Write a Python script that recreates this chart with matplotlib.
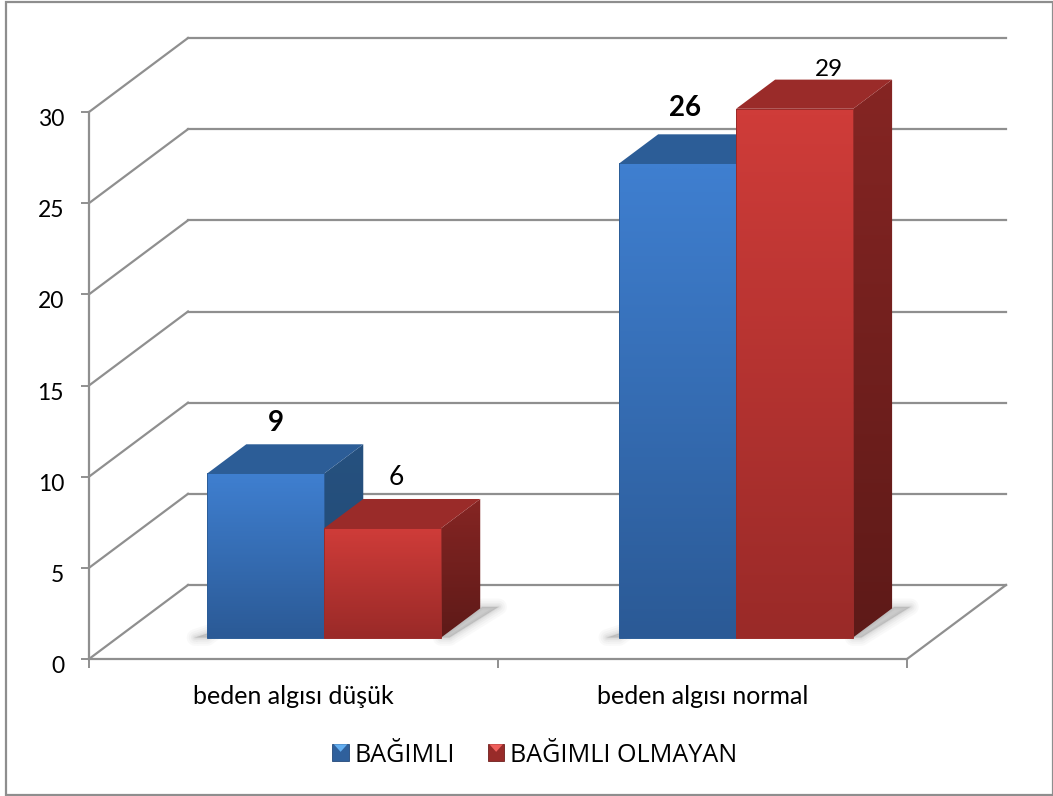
import numpy as np
import matplotlib
matplotlib.use("Agg")
import matplotlib.pyplot as plt
from matplotlib.colors import LinearSegmentedColormap
from matplotlib.legend_handler import HandlerBase
from matplotlib.patches import Patch, Polygon, Rectangle
from matplotlib.path import Path
from matplotlib.transforms import ScaledTranslation

# Chart data
categories = ["beden algısı düşük", "beden algısı normal"]
series_names = ["BAĞIMLI", "BAĞIMLI OLMAYAN"]
dependent = [9, 26]
not_dependent = [6, 29]
y_ticks = [0, 5, 10, 15, 20, 25, 30]

# Figure and front-plane axes, laid out in pixels of a 1053x796 canvas
W, H = 1053, 796
FONT = "Lato"
LINE = "#8f8f8f"
fig = plt.figure(figsize=(W / 100, H / 100), dpi=100, facecolor="white")
ax = fig.add_axes([89 / W, 1 - 659 / H, 818 / W, 547 / H])
ax.set_xlim(0, 2)
ax.set_ylim(0, 30)
ax.patch.set_visible(False)

# Oblique projection: one unit of depth shifts a point right and up
DEPTH_X, DEPTH_Y = 99 / 409, 74 / 547 * 30


def proj(x, y, d=0.0):
    return x + d * DEPTH_X, y + d * DEPTH_Y


def gradient(top, bottom, extent, clip=None, z=3):
    cmap = LinearSegmentedColormap.from_list("g", [top, bottom])
    im = ax.imshow(np.linspace(0, 1, 64)[:, None], cmap=cmap, extent=extent,
                   aspect="auto", origin="upper", zorder=z,
                   interpolation="bilinear")
    # Faces may rise above the front plane, so clip to the figure instead of the axes
    im.set_clip_box(fig.bbox)
    if clip is not None:
        im.set_clip_path(Path(clip + [clip[0]]), transform=ax.transData)
    ax.set_xlim(0, 2)
    ax.set_ylim(0, 30)


# Back wall, side wall and floor lines
for t in y_ticks:
    ax.plot(*zip(proj(0, t), proj(0, t, 1)), color=LINE, lw=1.6, clip_on=False, zorder=1)
    ax.plot(*zip(proj(0, t, 1), proj(2, t, 1)), color=LINE, lw=1.6, clip_on=False, zorder=1)
ax.plot(*zip(proj(2, 0), proj(2, 0, 1)), color=LINE, lw=1.6, clip_on=False, zorder=1)

# Bar geometry in axis units
BAR_W = 0.286
BAR_D0, BAR_D1 = 0.29, 0.684
group_starts = [0.219, 1.226]

BLUE = dict(front=("#3f7fd0", "#2b5a96"), side=("#26517f", "#224a75"), top="#2c5d97")
RED = dict(front=("#cf3c39", "#9a2a28"), side=("#852523", "#5e1a18"), top="#9a2b29")


def soft_shadow(points):
    for lw, alpha in ((12, 0.035), (9, 0.04), (6, 0.05), (3.5, 0.06), (1.5, 0.07)):
        ax.add_patch(Polygon(points, closed=True, facecolor="#666666", edgecolor="#666666",
                             lw=lw, alpha=alpha, joinstyle="round", clip_on=False, zorder=2))


def draw_bar(x0, value, style):
    x1 = x0 + BAR_W
    front_l = proj(x0, 0, BAR_D0)[0]
    front_r = proj(x1, 0, BAR_D0)[0]
    base = proj(0, 0, BAR_D0)[1]
    # value axis is measured on the plane of the bar's front face
    top = base + value
    dx = (BAR_D1 - BAR_D0) * DEPTH_X
    dy = (BAR_D1 - BAR_D0) * DEPTH_Y
    side = [(front_r, base), (front_r, top), (front_r + dx, top + dy), (front_r + dx, base + dy)]
    gradient(style["side"][0], style["side"][1],
             (front_r, front_r + dx, base, top + dy), clip=side)
    ax.add_patch(Polygon([(front_l, top), (front_r, top), (front_r + dx, top + dy),
                          (front_l + dx, top + dy)], closed=True, facecolor=style["top"],
                         edgecolor="none", clip_on=False, zorder=3))
    gradient(style["front"][0], style["front"][1], (front_l, front_r, base, top))
    ax.add_patch(Rectangle((front_l, base), front_r - front_l, value, facecolor="none",
                           edgecolor=style["top"], lw=0.7, clip_on=False, zorder=3))


for start, v_dep, v_not in zip(group_starts, dependent, not_dependent):
    # Floor shadow on both outer edges of the group
    r = start + 2 * BAR_W
    soft_shadow([proj(r, 0, BAR_D0), proj(r, 0, BAR_D1 + 0.02), proj(r + 0.04, 0, BAR_D1 + 0.02),
                 proj(r + 0.02, 0, BAR_D0)])
    soft_shadow([proj(start, 0, BAR_D0), proj(start - 0.03, 0, BAR_D0),
                 proj(start, 0, BAR_D0 + 0.1)])
    draw_bar(start, v_dep, BLUE)
    draw_bar(start + BAR_W, v_not, RED)

# Value labels above each bar: (x offset px, y offset px, font size, weight)
label_styles = {0: [(-9, 50, 20, "bold"), (-6, 51, 19, "normal")],
                1: [(-12, 55, 20, "bold"), (15, 39, 17.5, "normal")]}
for i, start in enumerate(group_starts):
    for j, value in enumerate((dependent[i], not_dependent[i])):
        off_x, off_y, size, weight = label_styles[i][j]
        x = proj(start + BAR_W * (j + 0.5), 0, (BAR_D0 + BAR_D1) / 2)[0]
        y = proj(0, 0, BAR_D0)[1] + value
        ax.annotate(str(value), xy=(x, y), xytext=(off_x * 0.72, off_y * 0.72),
                    textcoords="offset points", ha="center", va="center",
                    fontsize=size, fontweight=weight, family=FONT,
                    color="black", annotation_clip=False, zorder=5)

# Axis spines, ticks and tick labels
for side in ("top", "right"):
    ax.spines[side].set_visible(False)
for side in ("left", "bottom"):
    ax.spines[side].set_color(LINE)
    ax.spines[side].set_linewidth(1.6)
    ax.spines[side].set_zorder(1)
ax.set_yticks(y_ticks)
ax.set_xticks([0, 1, 2], labels=[])
ax.set_xticks([0.5, 1.5], labels=categories, minor=True)
ax.tick_params(axis="y", length=6, width=1.4, color=LINE, pad=12, labelsize=16.5,
               labelfontfamily=FONT)
ax.tick_params(axis="x", which="major", length=6.5, width=1.4, color=LINE)
ax.tick_params(axis="x", which="minor", length=0, pad=19, labelsize=18,
               labelfontfamily=FONT)
# Numerals sit a little below their tick marks
shift_down = ScaledTranslation(0, -4 / 72, fig.dpi_scale_trans)
for label in ax.get_yticklabels():
    label.set_transform(label.get_transform() + shift_down)


class PyramidHandle(HandlerBase):
    """Small square key with a lighter wedge along its upper edge."""

    def create_artists(self, legend, orig, xd, yd, width, height, fontsize, trans):
        x0, y0 = -xd, -yd
        base = Rectangle((x0, y0), width, height, facecolor=orig.get_facecolor(),
                         edgecolor=orig.get_edgecolor(), lw=0.6, transform=trans)
        wedge = Polygon([(x0 + 1, y0 + height), (x0 + width - 1, y0 + height),
                         (x0 + width / 2, y0 + height * 0.55)], closed=True,
                        facecolor=orig.wedge_color, edgecolor="none", transform=trans)
        return [base, wedge]


blue_key = Patch(facecolor="#2f609c", edgecolor="#24497a", label=series_names[0])
red_key = Patch(facecolor="#982b29", edgecolor="#6e1f1d", label=series_names[1])
blue_key.wedge_color = "#63aef0"
red_key.wedge_color = "#ef5f5c"
fig.legend(handles=[blue_key, red_key], handler_map={Patch: PyramidHandle()},
           loc="center", bbox_to_anchor=(535 / W, 1 - 755 / H), ncol=2, frameon=False,
           prop={"family": "Open Sans", "size": 18.1}, handlelength=0.65, handleheight=0.65,
           handletextpad=0.24, columnspacing=1.3)

# Outer chart frame
fig.add_artist(Rectangle((6 / W, 1 / H), (W - 6.5) / W, (H - 3) / H,
                         transform=fig.transFigure, facecolor="none", edgecolor="#8e8e8e", lw=1.6))

fig.savefig("out.png", dpi=100)
